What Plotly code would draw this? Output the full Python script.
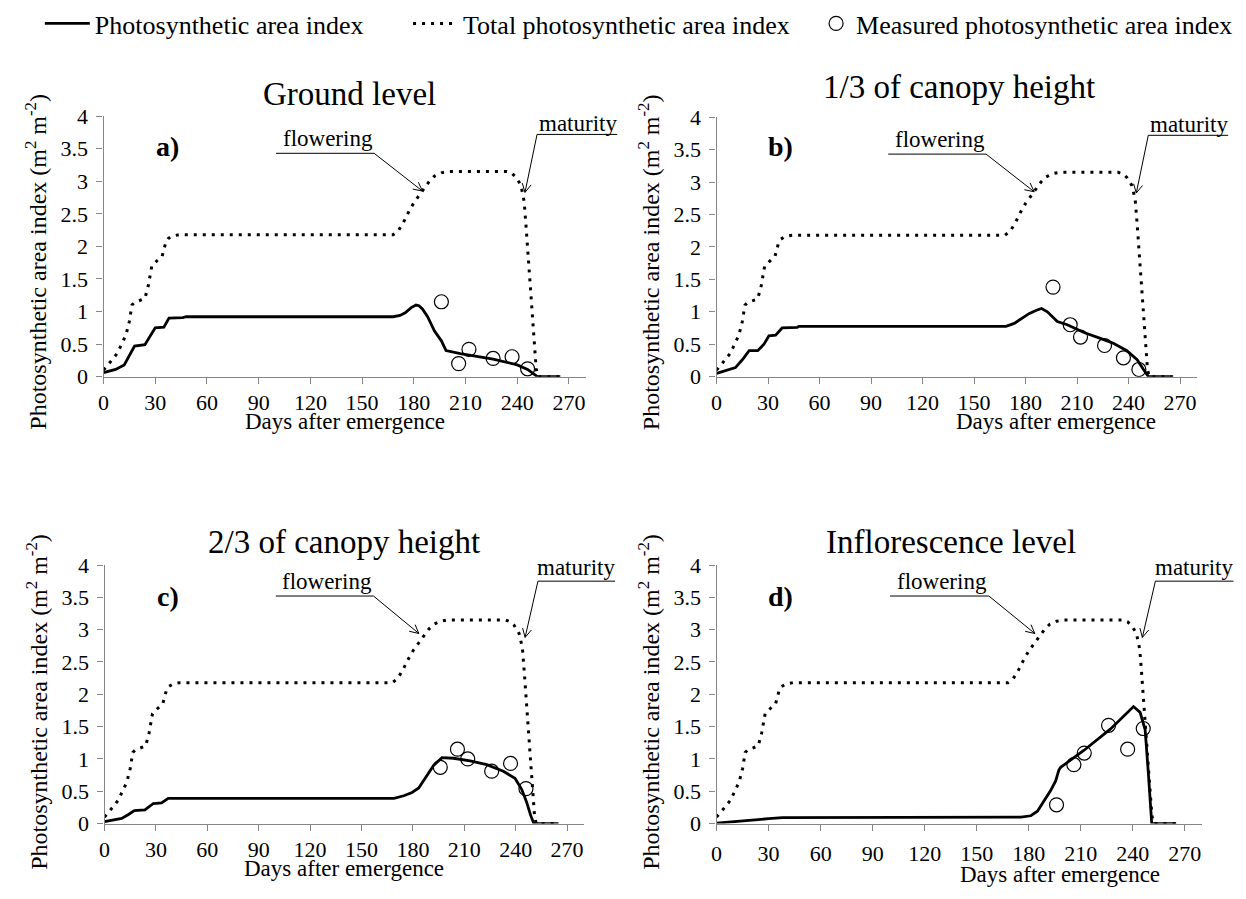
import math
import plotly.graph_objects as go

W, H = 1246, 899
FONT = "Liberation Serif, Times New Roman, Times, serif"

# ---------------- data ----------------
total_days = [0, 2, 5, 8, 11, 13, 15, 16.5, 18, 21, 24, 26, 28, 31, 34, 36, 37.5, 40, 44, 50,
              100, 168, 171, 174, 177, 180, 183, 186, 189, 192, 196, 200, 210, 234, 237, 239,
              241, 242, 243, 244, 245, 246, 247, 248, 249, 250, 251, 252, 258, 265]
total_pai = [0.10, 0.17, 0.26, 0.36, 0.52, 0.64, 0.85, 1.10, 1.14, 1.17, 1.20, 1.40, 1.70, 1.78,
             1.85, 2.05, 2.12, 2.16, 2.18, 2.18, 2.18, 2.18, 2.24, 2.37, 2.53, 2.67, 2.78, 2.89,
             3.00, 3.08, 3.13, 3.15, 3.15, 3.15, 3.12, 3.07, 2.99, 2.94, 2.83, 2.69, 2.35, 1.95,
             1.55, 1.17, 0.75, 0.38, 0.12, 0.0, 0.0, 0.0]

days_a = [0, 7, 12, 14.6, 18, 24, 27, 30, 35, 38, 46, 48, 168, 172, 175, 178.5, 181.3, 183, 185,
          188, 192, 196, 198.7, 207, 226, 240, 246, 251.7, 265]
pai_a = [0.06, 0.11, 0.18, 0.31, 0.47, 0.49, 0.62, 0.75, 0.76, 0.90, 0.905, 0.92, 0.92, 0.94, 0.98,
         1.06, 1.10, 1.09, 1.04, 0.92, 0.70, 0.55, 0.40, 0.354, 0.27, 0.18, 0.11, 0.0, 0.0]

days_b = [0, 11, 15, 19, 24, 27.6, 30.5, 34.4, 38.2, 47, 48, 168.6, 173.4, 178.3, 182, 186, 189.3,
          192.7, 195.6, 198.5, 204.3, 214, 223.6, 231.4, 239, 245, 248.7, 251.6, 266]
pai_b = [0.05, 0.14, 0.26, 0.40, 0.40, 0.50, 0.63, 0.64, 0.75, 0.76, 0.775, 0.775, 0.82, 0.91,
         0.97, 1.02, 1.05, 1.00, 0.92, 0.85, 0.80, 0.68, 0.59, 0.51, 0.40, 0.26, 0.11, 0.0, 0.0]

days_c = [0, 10, 14, 17.4, 23.6, 28.5, 33.3, 37.2, 46, 169, 174.7, 179.5, 183.4, 187.3, 192.1, 197,
          203.7, 213.4, 223.1, 232.8, 239.6, 243.5, 246.4, 248.7, 250.6, 265]
pai_c = [0.03, 0.08, 0.14, 0.20, 0.21, 0.31, 0.32, 0.39, 0.39, 0.39, 0.43, 0.48, 0.55, 0.70, 0.90,
         1.02, 1.01, 0.97, 0.91, 0.81, 0.70, 0.53, 0.33, 0.13, 0.0, 0.0]

days_d = [0, 11, 18.7, 30, 38, 175.4, 181.2, 185, 188.8, 192.6, 195.5, 197.4, 198.4, 211.7, 227,
          240.4, 244.2, 247.1, 249, 250.9, 265]
pai_d = [0.005, 0.025, 0.05, 0.075, 0.09, 0.10, 0.12, 0.19, 0.34, 0.51, 0.66, 0.83, 0.87, 1.13, 1.46,
         1.81, 1.72, 1.45, 0.76, 0.0, 0.0]

measured_days = [196, 206, 212, 226, 237, 246]
measured_a = [1.15, 0.20, 0.42, 0.28, 0.305, 0.12]
measured_b = [1.38, 0.80, 0.61, 0.48, 0.29, 0.11]
measured_c = [0.87, 1.15, 1.00, 0.81, 0.93, 0.54]
measured_d = [0.29, 0.91, 1.09, 1.52, 1.15, 1.47]

panel_titles = ["Ground level", "1/3 of canopy height", "2/3 of canopy height", "Inflorescence level"]
panel_letters = ["a)", "b)", "c)", "d)"]
x_title = "Days after emergence"
y_title = "Photosynthetic area index (m<sup>2</sup> m<sup>-2</sup>)"
x_ticks = [0, 30, 60, 90, 120, 150, 180, 210, 240, 270]
y_ticks = [0, 0.5, 1, 1.5, 2, 2.5, 3, 3.5, 4]
X_MAX, Y_MAX = 280, 4

# ---------------- layout geometry (pixels) ----------------
# plot-area boxes: left, right, top, bottom
boxes = [(98, 583, 98, 369), (714, 1197, 99, 369), (99, 581, 565, 834), (714, 1202, 565, 834)]
title_pos = [(345, 75), (958, 68), (340, 541), (950, 541)]
xtitle_day = [140, 198, 140, 198]     # horizontal centre of x title, in axis units
xtitle_gap = [47, 47, 47, 53]         # px below axis line
xlabel_standoff = [0, 0, 0, 4]
ytitle_offset = [68, 68, 68, 68]      # px left of the y axis
ytitle_shift = [16, 16, 8, 8]         # px below the panel centre


def px_x(p):
    return p / W


def px_y(p):
    return 1 - p / H


def to_px(i, day, val):
    l, r, t, b = boxes[i]
    return l + day / X_MAX * (r - l), b - val / Y_MAX * (b - t)


def to_paper(i, day, val):
    x, y = to_px(i, day, val)
    return px_x(x), px_y(y)


fig = go.Figure()
series = [(days_a, pai_a, measured_a), (days_b, pai_b, measured_b),
          (days_c, pai_c, measured_c), (days_d, pai_d, measured_d)]

axis_col = "#868686"
for i, (dx, dy, meas) in enumerate(series):
    sfx = "" if i == 0 else str(i + 1)
    xa, ya = "x" + sfx, "y" + sfx
    fig.add_trace(go.Scatter(x=dx, y=dy, mode="lines", name="Photosynthetic area index",
                             line=dict(color="black", width=2.8), xaxis=xa, yaxis=ya,
                             showlegend=(i == 0), legend="legend"))
    fig.add_trace(go.Scatter(x=total_days, y=total_pai, mode="lines",
                             name="Total photosynthetic area index",
                             line=dict(color="black", width=3, dash="3px,6px"), xaxis=xa, yaxis=ya,
                             showlegend=(i == 0), legend="legend2"))
    fig.add_trace(go.Scatter(x=measured_days, y=meas, mode="markers",
                             name="Measured photosynthetic area index",
                             marker=dict(symbol="circle-open", size=14, color="black",
                                         line=dict(width=1.2, color="black")),
                             xaxis=xa, yaxis=ya, showlegend=(i == 0), legend="legend3"))

leg_font = dict(family=FONT, size=26, color="black")
leg_y = 1.026
layout = dict(
    width=W, height=H, autosize=False,
    margin=dict(l=0, r=0, t=0, b=0),
    paper_bgcolor="white", plot_bgcolor="white",
    font=dict(family=FONT, color="black", size=22),
    showlegend=True,
    legend=dict(x=px_x(34), y=leg_y, xanchor="left", yanchor="top", font=leg_font,
                itemwidth=45, bgcolor="rgba(0,0,0,0)"),
    legend2=dict(x=px_x(404), y=leg_y, xanchor="left", yanchor="top", font=leg_font,
                 itemwidth=45, bgcolor="rgba(0,0,0,0)"),
    legend3=dict(x=px_x(814), y=leg_y, xanchor="left", yanchor="top", font=leg_font,
                 itemwidth=30, bgcolor="rgba(0,0,0,0)"),
)

annotations = []
shapes = []


def seg(i, p0, p1):
    x0, y0 = to_paper(i, *p0)
    x1, y1 = to_paper(i, *p1)
    shapes.append(dict(type="line", xref="paper", yref="paper", x0=x0, y0=y0, x1=x1, y1=y1,
                       line=dict(color="black", width=1)))


def arrow(i, p0, tip, head=10, ang=27):
    seg(i, p0, tip)
    sx, sy = to_px(i, *p0)
    tx, ty = to_px(i, *tip)
    dx, dy = tx - sx, ty - sy
    n = math.hypot(dx, dy)
    ux, uy = dx / n, dy / n
    pts = []
    for s in (1, -1):
        a = math.radians(ang * s)
        rx = ux * math.cos(a) - uy * math.sin(a)
        ry = ux * math.sin(a) + uy * math.cos(a)
        pts.append((tx - head * rx, ty - head * ry))
    path = "M{},{} L{},{} L{},{}".format(px_x(pts[0][0]), px_y(pts[0][1]), px_x(tx), px_y(ty),
                                         px_x(pts[1][0]), px_y(pts[1][1]))
    shapes.append(dict(type="path", xref="paper", yref="paper", path=path,
                       line=dict(color="black", width=1)))


def text(i, s, day, val, size=23):
    x, y = to_paper(i, day, val)
    annotations.append(dict(text=s, x=x, y=y, xref="paper", yref="paper", showarrow=False,
                            xanchor="center", yanchor="middle",
                            font=dict(family=FONT, size=size, color="black")))


for i, (l, r, t, b) in enumerate(boxes):
    sfx = "" if i == 0 else str(i + 1)
    layout["xaxis" + sfx] = dict(
        domain=[px_x(l), px_x(r)], range=[0, X_MAX], anchor="y" + sfx,
        tickvals=x_ticks, ticks="outside", ticklen=6, tickwidth=1.3, tickcolor=axis_col,
        showline=True, linecolor=axis_col, linewidth=1.3, showgrid=False, zeroline=False,
        ticklabelstandoff=xlabel_standoff[i],
        tickfont=dict(family=FONT, size=22, color="black"),
    )
    layout["yaxis" + sfx] = dict(
        domain=[px_y(b), px_y(t)], range=[0, Y_MAX], anchor="x" + sfx,
        tickvals=y_ticks, ticks="outside", ticklen=6, tickwidth=1.3, tickcolor=axis_col,
        showline=True, linecolor=axis_col, linewidth=1.3, showgrid=False, zeroline=False,
        ticklabelstandoff=4,
        tickfont=dict(family=FONT, size=22, color="black"),
    )
    tx, ty = title_pos[i]
    annotations.append(dict(text=panel_titles[i], x=px_x(tx), y=px_y(ty), xref="paper", yref="paper",
                            xanchor="center", yanchor="middle", showarrow=False,
                            font=dict(family=FONT, size=33, color="black")))
    # axis titles
    xt_x, _ = to_px(i, xtitle_day[i], 0)
    annotations.append(dict(text=x_title, x=px_x(xt_x), y=px_y(b + xtitle_gap[i]),
                            xref="paper", yref="paper", xanchor="center", yanchor="middle",
                            showarrow=False, font=dict(family=FONT, size=23, color="black")))
    annotations.append(dict(text=y_title, x=px_x(l - ytitle_offset[i]),
                            y=px_y((t + b) / 2 + ytitle_shift[i]), textangle=-90,
                            xref="paper", yref="paper", xanchor="center", yanchor="middle",
                            showarrow=False, font=dict(family=FONT, size=24, color="black")))

    row2 = i >= 2
    lab_y = 3.52 if row2 else 3.54
    flw_text_y = 3.75 if row2 else 3.66
    flw_line_y = 3.52 if row2 else 3.43
    flw_tip = (183.5, 2.94) if row2 else (185, 2.85)
    mat_line_y = 3.75 if row2 else 3.72
    mat_start = 253 if row2 else 251.5
    mat_tip = (245.5, 2.88) if row2 else (244.5, 2.83)
    mat_text_y = 3.96 if row2 else 3.88

    text(i, "<b>" + panel_letters[i] + "</b>", 37, lab_y, size=28)
    text(i, "flowering", 130, flw_text_y)
    seg(i, (100, flw_line_y), (157, flw_line_y))
    arrow(i, (157, flw_line_y), flw_tip)
    text(i, "maturity", 275, mat_text_y)
    seg(i, (mat_start, mat_line_y), (298, mat_line_y))
    arrow(i, (mat_start, mat_line_y), mat_tip)

layout["annotations"] = annotations
layout["shapes"] = shapes
fig.update_layout(**layout)
fig.write_html("out.html")
